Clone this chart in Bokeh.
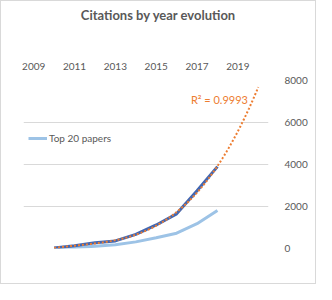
import numpy as np
from bokeh.plotting import figure
from bokeh.layouts import column
from bokeh.models import Range1d, FixedTicker, Label, Legend, LegendItem, Div
from bokeh.embed import file_html
from bokeh.resources import INLINE

years = [2010, 2011, 2012, 2013, 2014, 2015, 2016, 2017, 2018]
total_citations = [20, 135, 270, 360, 670, 1120, 1650, 2750, 3900]
top20_citations = [10, 50, 110, 180, 315, 510, 730, 1180, 1810]
trend_end_year = 2020
title_text = "Citations by year evolution"
r2_text = "R\u00b2 = 0.9993"
x_ticks = [2009, 2011, 2013, 2015, 2017, 2019]
y_ticks = [0, 2000, 4000, 6000, 8000]

FONT = "Lato"
TXT = "#595959"

title = Div(text=title_text, width=314, height=28, margin=0,
            styles={"font-family": FONT, "font-weight": "bold", "font-size": "13px",
                    "color": TXT, "text-align": "center", "line-height": "28px"})

p = figure(width=314, height=254, output_backend="svg", toolbar_location=None,
           x_axis_location="above", y_axis_location="right",
           x_range=Range1d(2008.5, 2020.5), y_range=Range1d(0, 8000),
           min_border_left=22, min_border_right=47, min_border_top=51, min_border_bottom=35,
           margin=0)
p.outline_line_color = None
p.title.text = ""

for ax in (p.xaxis[0], p.yaxis[0]):
    ax.axis_line_color = None
    ax.major_tick_line_color = None
    ax.minor_tick_line_color = None
    ax.major_label_text_font = FONT
    ax.major_label_text_font_size = "10px"
    ax.major_label_text_color = TXT
p.xaxis[0].ticker = FixedTicker(ticks=x_ticks)
p.xaxis[0].major_label_standoff = 5
p.yaxis[0].ticker = FixedTicker(ticks=y_ticks)
p.yaxis[0].major_label_standoff = 10
p.yaxis[0].formatter.use_scientific = False

p.xgrid.grid_line_color = None
p.ygrid.grid_line_color = "#d9d9d9"
p.ygrid.ticker = FixedTicker(ticks=y_ticks)

coef = np.polyfit(years, total_citations, 3)
tx = np.linspace(years[0], trend_end_year, 200)
ty = np.polyval(coef, tx)

r_top = p.line(years, top20_citations, line_color="#9dc3e6", line_width=3)
r_tot = p.line(years, total_citations, line_color="#4267b2", line_width=3)
r_tr = p.line(tx, ty, line_color="#ed7d31", line_width=2, line_dash="2 2")

p.add_layout(Label(x=2016.7, y=7100, text=r2_text, text_color="#ed7d31",
                   text_font=FONT, text_font_size="11px", text_baseline="middle"))

legend = Legend(items=[LegendItem(label="Top 20 papers", renderers=[r_top])],
                location=(5, 100), background_fill_alpha=0, border_line_color=None,
                padding=0, margin=0, glyph_width=19, label_standoff=2,
                label_text_font=FONT, label_text_font_size="10px", label_text_color=TXT)
p.add_layout(legend, "center")

layout = column(title, p, spacing=0, margin=0,
                styles={"border": "1px solid #d9d9d9", "background": "white"})

open("out.html", "w").write(file_html(layout, INLINE))
